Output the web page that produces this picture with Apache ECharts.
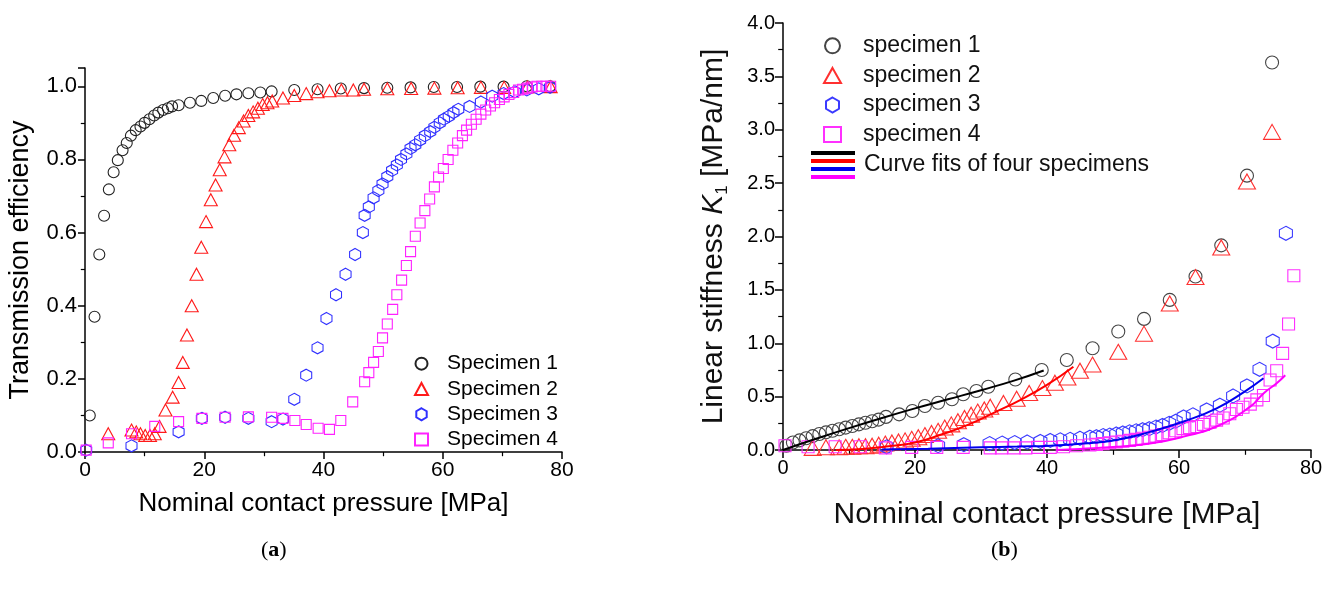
<!DOCTYPE html>
<html>
<head>
<meta charset="utf-8">
<script src="https://cdn.jsdelivr.net/npm/echarts@6/dist/echarts.min.js"></script>
<style>
  html, body { margin: 0; padding: 0; background: #fff; }
  #chart { width: 1333px; height: 596px; }
</style>
</head>
<body>
<div id="chart"></div>
<script>
// ---- tick labels ----
const pressureTicks = [0, 20, 40, 60, 80];
const effTicks = [0, 0.2, 0.4, 0.6, 0.8, 1.0];
const stiffTicks = [0, 0.5, 1.0, 1.5, 2.0, 2.5, 3.0, 3.5, 4.0];

// ---- (a) transmission efficiency vs pressure ----
const aNames = ['Specimen 1', 'Specimen 2', 'Specimen 3', 'Specimen 4'];
const a1P = [0.8, 1.6, 2.4, 3.2, 4.0, 4.8, 5.5, 6.3, 7.0, 7.7, 8.5, 9.3, 10.0, 10.8, 11.6, 12.3, 13.1, 13.9, 14.6, 15.7,
  17.6, 19.5, 21.5, 23.5, 25.4, 27.4, 29.4, 31.3, 35.1, 39.0, 42.9, 46.8, 50.7, 54.6, 58.5, 62.4, 66.3, 70.2, 74.1, 78.0];
const a1T = [0.10, 0.37, 0.54, 0.646, 0.718, 0.765, 0.798, 0.825, 0.845, 0.865, 0.88, 0.89, 0.90, 0.91, 0.92, 0.928, 0.935, 0.94, 0.945, 0.948,
  0.955, 0.96, 0.968, 0.974, 0.978, 0.981, 0.983, 0.986, 0.99, 0.992, 0.994, 0.995, 0.996, 0.997, 0.998, 0.998, 0.999, 0.999, 1.0, 1.0];
const a2P = [3.9, 7.8, 8.6, 9.3, 10.1, 10.9, 11.7, 12.5, 13.5, 14.7, 15.7, 16.4, 17.1, 17.9, 18.7, 19.5, 20.3, 21.1, 21.9, 22.6,
  23.4, 24.2, 25.0, 25.8, 26.6, 27.4, 28.2, 29.0, 29.8, 30.6, 31.4, 33.2, 35.1, 37.1, 39.0, 41.0, 43.0, 45.0, 46.8, 50.7,
  54.7, 58.6, 62.5, 66.4, 70.3, 74.2, 78.1];
const a2T = [0.05, 0.06, 0.055, 0.05, 0.045, 0.045, 0.05, 0.07, 0.115, 0.15, 0.19, 0.245, 0.32, 0.40, 0.486, 0.56, 0.63, 0.69, 0.73, 0.772,
  0.807, 0.84, 0.866, 0.887, 0.905, 0.92, 0.93, 0.94, 0.95, 0.955, 0.96, 0.968, 0.975, 0.98, 0.985, 0.988, 0.99, 0.99, 0.992, 0.993,
  0.994, 0.995, 0.996, 0.997, 0.997, 0.998, 0.999];
const a3P = [0.2, 7.8, 15.7, 19.6, 23.5, 27.4, 31.3, 33.2, 35.1, 37.1, 39.0, 40.5, 42.1, 43.7, 45.3, 46.6, 46.9, 47.6, 48.4, 49.2,
  49.9, 50.7, 51.5, 52.3, 53.0, 53.9, 54.6, 55.4, 56.2, 57.0, 57.9, 58.6, 59.5, 60.2, 61.0, 61.8, 62.6, 64.5, 66.4, 68.3,
  70.2, 72.1, 74.1, 76.1, 78.0];
const a3T = [0.005, 0.017, 0.055, 0.092, 0.095, 0.092, 0.083, 0.09, 0.144, 0.21, 0.285, 0.365, 0.43, 0.486, 0.54, 0.60, 0.647, 0.67, 0.695, 0.715,
  0.733, 0.753, 0.77, 0.785, 0.80, 0.815, 0.83, 0.84, 0.853, 0.865, 0.876, 0.888, 0.90, 0.91, 0.918, 0.928, 0.937, 0.945, 0.957, 0.973,
  0.98, 0.985, 0.99, 0.993, 0.997];
const a4P = [0.2, 3.9, 7.8, 11.7, 15.7, 19.6, 23.5, 27.4, 31.3, 33.2, 35.2, 37.1, 39.1, 41.0, 42.9, 44.9, 46.9, 47.6, 48.4, 49.2,
  49.9, 50.7, 51.6, 52.3, 53.1, 53.9, 54.6, 55.4, 56.2, 57.0, 57.8, 58.6, 59.3, 60.1, 60.9, 61.7, 62.5, 63.3, 64.0, 64.8,
  65.6, 66.4, 67.2, 68.0, 68.7, 69.5, 70.3, 71.1, 71.9, 72.7, 73.4, 74.2, 75.0, 75.8, 76.6, 77.3, 78.1];
const a4T = [0.005, 0.025, 0.05, 0.07, 0.083, 0.092, 0.095, 0.096, 0.095, 0.092, 0.086, 0.075, 0.065, 0.062, 0.086, 0.137, 0.192, 0.217, 0.245, 0.275,
  0.312, 0.35, 0.39, 0.43, 0.47, 0.51, 0.548, 0.59, 0.626, 0.66, 0.692, 0.725, 0.752, 0.775, 0.80, 0.825, 0.845, 0.865, 0.88, 0.896,
  0.91, 0.924, 0.935, 0.946, 0.955, 0.964, 0.971, 0.978, 0.983, 0.99, 0.992, 0.995, 0.998, 1.0, 1.0, 1.0, 1.0];

// ---- (b) linear stiffness K1 vs pressure ----
const bNames = ['specimen 1', 'specimen 2', 'specimen 3', 'specimen 4'];
const fitName = 'Curve fits of four specimens';
const b1P = [0.5, 1.5, 2.5, 3.5, 4.5, 5.5, 6.5, 7.5, 8.5, 9.5, 10.5, 11.5, 12.5, 13.5, 14.5, 15.6,
  17.6, 19.6, 21.5, 23.5, 25.6, 27.3, 29.3, 31.1, 35.2, 39.2, 43.0, 46.9, 50.8, 54.7, 58.6, 62.5, 66.4, 70.3, 74.1];
const b1K = [0.04, 0.07, 0.09, 0.11, 0.13, 0.15, 0.165, 0.18, 0.195, 0.21, 0.225, 0.24, 0.255, 0.27, 0.285, 0.31,
  0.334, 0.365, 0.412, 0.443, 0.475, 0.522, 0.553, 0.593, 0.66, 0.75, 0.843, 0.953, 1.11, 1.228, 1.406, 1.625, 1.917, 2.57, 3.63];
const b2P = [4.5, 6.5, 8.5, 9.5, 10.5, 11.5, 12.5, 13.5, 14.5, 15.5, 16.5, 17.5, 18.5, 19.5, 20.5, 21.5, 22.5, 23.5, 24.5, 25.5,
  26.5, 27.5, 28.5, 29.5, 30.5, 31.4, 33.4, 35.4, 37.3, 39.3, 41.2, 43.1, 45.0, 46.9, 50.8, 54.7, 58.6, 62.5, 66.4, 70.3, 74.1];
const b2K = [0.02, 0.025, 0.025, 0.03, 0.03, 0.035, 0.035, 0.04, 0.05, 0.06, 0.07, 0.08, 0.09, 0.105, 0.12, 0.14, 0.16, 0.18, 0.21, 0.24,
  0.27, 0.30, 0.33, 0.36, 0.38, 0.406, 0.44, 0.48, 0.534, 0.58, 0.63, 0.68, 0.743, 0.80, 0.92, 1.09, 1.373, 1.62, 1.897, 2.515, 2.98];
const b3P = [15.7, 23.5, 27.4, 31.3, 33.2, 35.1, 37.0, 39.0, 40.5, 42.0, 43.5, 45.0, 46.5, 47.5, 48.5, 49.5, 50.5, 51.5, 52.5, 53.5,
  54.5, 55.5, 56.5, 57.5, 58.5, 59.5, 60.7, 62.1, 64.2, 66.2, 68.2, 70.3, 72.2, 74.2, 76.2];
const b3K = [0.03, 0.04, 0.05, 0.06, 0.065, 0.07, 0.075, 0.08, 0.09, 0.095, 0.10, 0.11, 0.12, 0.125, 0.135, 0.14, 0.15, 0.16, 0.17, 0.18,
  0.19, 0.20, 0.215, 0.23, 0.25, 0.27, 0.31, 0.33, 0.375, 0.42, 0.506, 0.60, 0.756, 1.02, 2.03];
const b4P = [0.3, 3.8, 7.9, 11.7, 15.5, 19.5, 23.3, 27.3, 31.4, 33.1, 35.0, 36.8, 38.6, 40.5, 42.5, 44.5, 46.5, 47.5, 48.5, 49.5,
  50.5, 51.5, 52.5, 53.5, 54.5, 55.5, 56.5, 57.5, 58.5, 59.5, 60.6, 61.6, 62.7, 63.7, 64.7, 65.7, 66.7, 67.7, 68.7, 69.7,
  70.8, 71.8, 72.8, 73.8, 74.8, 75.7, 76.6, 77.4];
const b4K = [0.04, 0.03, 0.03, 0.03, 0.02, 0.025, 0.025, 0.025, 0.02, 0.02, 0.02, 0.02, 0.025, 0.025, 0.03, 0.04, 0.047, 0.053, 0.06, 0.068,
  0.075, 0.082, 0.09, 0.10, 0.11, 0.12, 0.13, 0.145, 0.16, 0.18, 0.20, 0.21, 0.22, 0.24, 0.26, 0.28, 0.30, 0.34, 0.38, 0.40,
  0.43, 0.47, 0.51, 0.656, 0.743, 0.905, 1.18, 1.632];

// fitted curves (b)
const fit1P = [0, 5, 10, 15, 20, 25, 30, 35, 39.5];
const fit1K = [0, 0.105, 0.205, 0.30, 0.39, 0.475, 0.56, 0.65, 0.745];
const fit2P = [8, 12, 16, 20, 24, 28, 32, 36, 40, 44];
const fit2K = [0, 0.01, 0.035, 0.07, 0.145, 0.235, 0.35, 0.47, 0.61, 0.78];
const fit3P = [15, 22, 30, 35.5, 40.5, 45.5, 50.5, 55.6, 60.6, 65.7, 70, 72.8];
const fit3K = [0.005, 0.012, 0.025, 0.032, 0.04, 0.06, 0.094, 0.17, 0.265, 0.39, 0.55, 0.672];
const fit4P = [41.5, 45, 50.6, 55.6, 60.7, 65.7, 70.8, 72.8, 74.8, 76.1];
const fit4K = [0, 0.01, 0.03, 0.06, 0.125, 0.22, 0.406, 0.53, 0.625, 0.70];

const pairs = (xs, ys) => xs.map((x, i) => [x, ys[i]]);

const HEX = 'path://M0,-10L8.66,-5L8.66,5L0,10L-8.66,5L-8.66,-5Z';
const FONT = 'Liberation Sans, Arial, sans-serif';

const colsA = ['#222222', '#ff1a1a', '#2f2fff', '#ff22ff'];
const colsB = ['#454545', '#ff3030', '#3a3aff', '#ff30ff'];
const fitCols = ['#000000', '#ff0000', '#0000ee', '#ff00ff'];

function fitIcon() {
  const svg = "<svg xmlns='http://www.w3.org/2000/svg' width='44' height='28'>" +
    fitCols.map((c, i) => "<rect x='0' y='" + (i * 8) + "' width='44' height='4' fill='" + c + "'/>").join('') +
    '</svg>';
  return 'image://data:image/svg+xml;charset=utf-8,' + encodeURIComponent(svg);
}

function axisBase(fs, tickLen, digits) {
  return {
    axisLine: { show: true, onZero: false, lineStyle: { color: '#000', width: 1.5 } },
    axisTick: { show: true, inside: false, length: tickLen, lineStyle: { color: '#000', width: 1.5 } },
    minorTick: { show: true, splitNumber: 2, length: tickLen * 0.6, lineStyle: { color: '#000', width: 1.2 } },
    splitLine: { show: false },
    axisLabel: { color: '#000', fontSize: fs, fontFamily: FONT, formatter: v => v.toFixed(digits) }
  };
}

function scatter(name, data, xi, symbol, size, color) {
  return {
    name, type: 'scatter', xAxisIndex: xi, yAxisIndex: xi,
    data, symbol, symbolSize: size,
    itemStyle: { color: 'transparent', borderColor: color, borderWidth: 1.1, opacity: 1 },
    emphasis: { disabled: true }
  };
}

function fitLine(data, color) {
  return {
    name: fitName, type: 'line', xAxisIndex: 1, yAxisIndex: 1,
    data, smooth: true, symbol: 'none', z: 5,
    lineStyle: { color, width: 2 }, itemStyle: { color }
  };
}

const chart = echarts.init(document.getElementById('chart'));
const option = {
  backgroundColor: '#fff',
  animation: false,
  textStyle: { fontFamily: FONT },
  title: [
    { text: '({b|a})', left: 256, top: 534,
      textStyle: { fontFamily: 'Liberation Serif', fontSize: 22, fontWeight: 'normal', color: '#000',
        rich: { b: { fontFamily: 'Liberation Serif', fontSize: 22, fontWeight: 'bold', color: '#000' } } } },
    { text: '({b|b})', left: 986, top: 534,
      textStyle: { fontFamily: 'Liberation Serif', fontSize: 22, fontWeight: 'normal', color: '#000',
        rich: { b: { fontFamily: 'Liberation Serif', fontSize: 22, fontWeight: 'bold', color: '#000' } } } }
  ],
  grid: [
    { left: 85, right: 771, top: 68, bottom: 144 },
    { left: 783, right: 22, top: 23, bottom: 146 }
  ],
  xAxis: [
    Object.assign(axisBase(21, 7, 0), {
      gridIndex: 0, type: 'value',
      min: pressureTicks[0], max: pressureTicks[pressureTicks.length - 1],
      interval: pressureTicks[1] - pressureTicks[0],
      name: 'Nominal contact pressure [MPa]', nameLocation: 'middle', nameGap: 39,
      nameTextStyle: { fontSize: 26, color: '#000', fontFamily: FONT }
    }),
    Object.assign(axisBase(20, 8, 0), {
      gridIndex: 1, type: 'value',
      min: pressureTicks[0], max: pressureTicks[pressureTicks.length - 1],
      interval: pressureTicks[1] - pressureTicks[0],
      name: 'Nominal contact pressure [MPa]', nameLocation: 'middle', nameGap: 50,
      nameTextStyle: { fontSize: 30, color: '#111', fontFamily: FONT }
    })
  ],
  yAxis: [
    Object.assign(axisBase(22, 7, 1), {
      gridIndex: 0, type: 'value',
      min: effTicks[0], max: 1.05, interval: effTicks[1] - effTicks[0],
      name: 'Transmission efficiency', nameLocation: 'middle', nameGap: 51,
      nameTextStyle: { fontSize: 27, color: '#000', fontFamily: FONT }
    }),
    Object.assign(axisBase(20, 8, 1), {
      gridIndex: 1, type: 'value',
      min: stiffTicks[0], max: stiffTicks[stiffTicks.length - 1], interval: stiffTicks[1] - stiffTicks[0],
      name: 'Linear stiffness {i|K}{sub|1} [MPa/nm]', nameLocation: 'middle', nameGap: 52,
      nameTextStyle: {
        fontSize: 30, color: '#111', fontFamily: FONT,
        rich: {
          i: { fontSize: 30, fontStyle: 'italic', fontFamily: FONT, color: '#111' },
          sub: { fontSize: 17, fontFamily: FONT, color: '#111', padding: [18, 0, 0, 0] }
        }
      }
    })
  ],
  legend: [
    {
      orient: 'vertical', left: 409, top: 346, itemWidth: 13, itemHeight: 12, itemGap: 0,
      data: aNames, selectedMode: false,
      textStyle: { fontSize: 21, color: '#000', fontFamily: FONT, lineHeight: 25.3, padding: [0, 0, 0, 14] }
    },
    {
      orient: 'vertical', left: 818, top: 26, itemWidth: 17, itemHeight: 15, itemGap: 0,
      data: bNames, selectedMode: false,
      textStyle: { fontSize: 23, color: '#111', fontFamily: FONT, lineHeight: 29.6, padding: [0, 0, 0, 17] }
    },
    {
      orient: 'vertical', left: 806, top: 145, itemWidth: 44, itemHeight: 28, itemGap: 0,
      data: [{ name: fitName, icon: fitIcon() }], selectedMode: false,
      textStyle: { fontSize: 23, color: '#111', fontFamily: FONT, lineHeight: 30, padding: [0, 0, 0, 4] }
    }
  ],
  series: [
    scatter(aNames[0], pairs(a1P, a1T), 0, 'circle', 11, colsA[0]),
    scatter(aNames[1], pairs(a2P, a2T), 0, 'triangle', [13, 12], colsA[1]),
    scatter(aNames[2], pairs(a3P, a3T), 0, HEX, [11, 12], colsA[2]),
    scatter(aNames[3], pairs(a4P, a4T), 0, 'rect', 10, colsA[3]),
    scatter(bNames[0], pairs(b1P, b1K), 1, 'circle', 13, colsB[0]),
    scatter(bNames[1], pairs(b2P, b2K), 1, 'triangle', [17, 15], colsB[1]),
    scatter(bNames[2], pairs(b3P, b3K), 1, HEX, [13, 14], colsB[2]),
    scatter(bNames[3], pairs(b4P, b4K), 1, 'rect', 12, colsB[3]),
    fitLine(pairs(fit1P, fit1K), fitCols[0]),
    fitLine(pairs(fit2P, fit2K), fitCols[1]),
    fitLine(pairs(fit3P, fit3K), fitCols[2]),
    fitLine(pairs(fit4P, fit4K), fitCols[3])
  ]
};
chart.setOption(option);
window.addEventListener('resize', () => chart.resize());
</script>
</body>
</html>
